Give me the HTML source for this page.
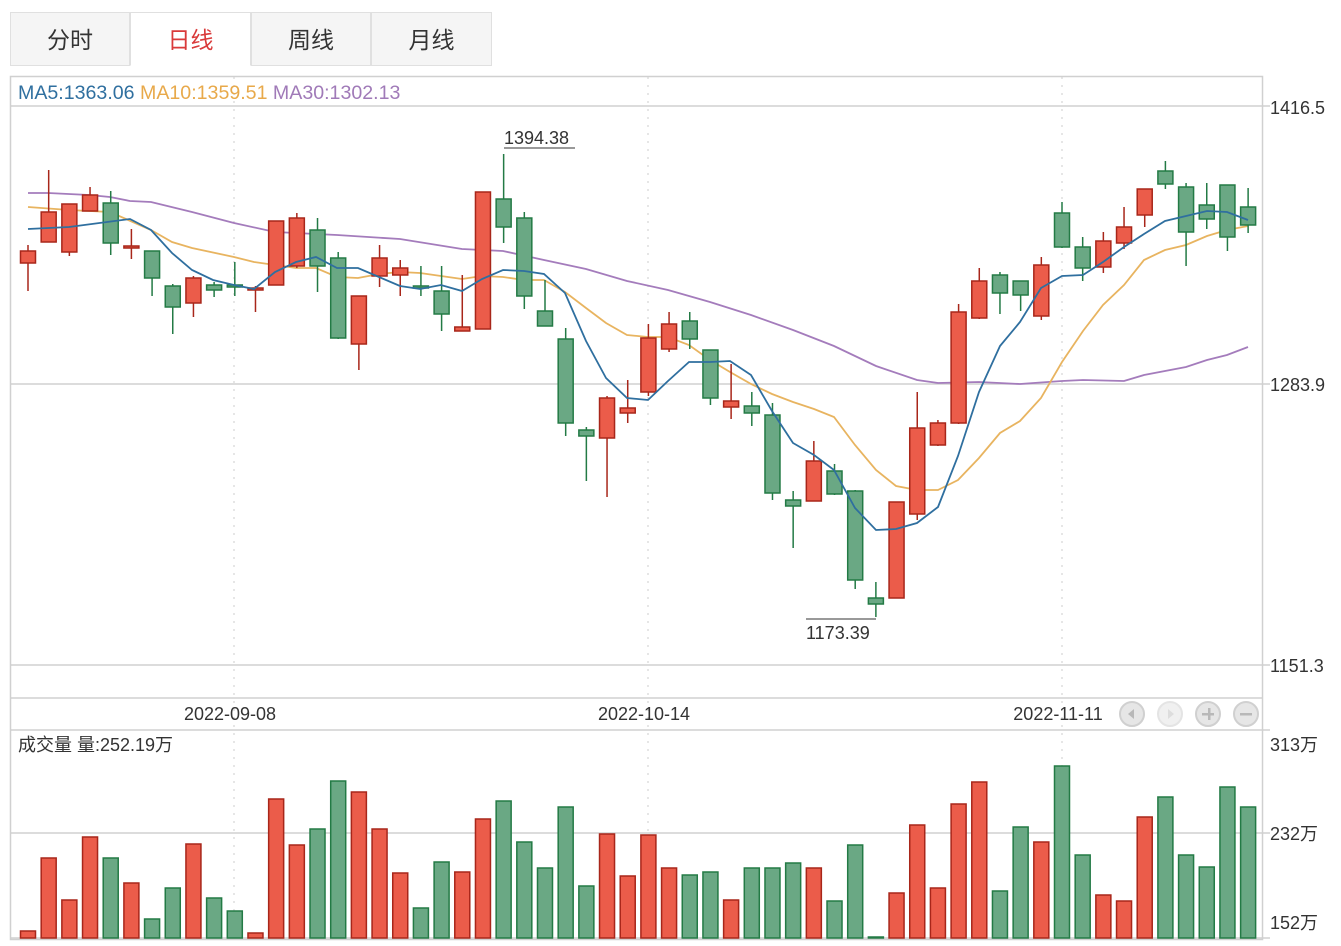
<!DOCTYPE html>
<html><head><meta charset="utf-8"><style>
body{margin:0;background:#fff;width:1341px;height:946px;overflow:hidden;font-family:"Liberation Sans","Noto Sans CJK SC",sans-serif}
.tab{position:absolute;top:12px;height:54px;width:120px;background:#f5f5f5;border:1px solid #e0e0e0;box-sizing:border-box;text-align:center;line-height:54px;font-size:23px;color:#333}
</style></head><body>
<div class="tab" style="left:10px">分时</div>
<div class="tab" style="left:130px;width:121px;background:#fff;color:#d93a3a;border-bottom-color:#fff">日线</div>
<div class="tab" style="left:251px">周线</div>
<div class="tab" style="left:371px;width:121px">月线</div>
<svg width="1341" height="946" style="position:absolute;left:0;top:0" xmlns="http://www.w3.org/2000/svg" font-family="Liberation Sans, Noto Sans CJK SC, sans-serif">
<g stroke="#d0d0d0" stroke-width="1.5" fill="none">
<rect x="10.5" y="76.5" width="1252" height="863"/>
<line x1="10" y1="106" x2="1270" y2="106"/>
<line x1="10" y1="384" x2="1270" y2="384"/>
<line x1="10" y1="665" x2="1270" y2="665"/>
<line x1="10" y1="698" x2="1263" y2="698"/>
<line x1="10" y1="730" x2="1270" y2="730"/>
<line x1="10" y1="833" x2="1270" y2="833"/>
<line x1="10" y1="938" x2="1270" y2="938"/>
</g>
<g stroke="#ccc" stroke-width="1" stroke-dasharray="2,6">
<line x1="234" y1="77" x2="234" y2="940"/><line x1="648" y1="77" x2="648" y2="940"/><line x1="1062" y1="77" x2="1062" y2="940"/>
</g>
<g font-size="18" fill="#333">
<text x="1270" y="114">1416.5</text><text x="1270" y="391">1283.9</text><text x="1270" y="672">1151.3</text>
<text x="230" y="720" text-anchor="middle">2022-09-08</text><text x="644" y="720" text-anchor="middle">2022-10-14</text><text x="1058" y="720" text-anchor="middle">2022-11-11</text>
<text x="1270" y="751">313万</text><text x="1270" y="840">232万</text><text x="1270" y="929">152万</text>
<text x="18" y="751">成交量 量:252.19万</text>
<text x="504" y="144">1394.38</text><text x="806" y="639">1173.39</text>
</g>
<line x1="504" y1="148" x2="575" y2="148" stroke="#333"/>
<line x1="806" y1="619" x2="876" y2="619" stroke="#333"/>
<text x="18" y="99" font-size="19.6"><tspan fill="#2f6f9f">MA5:1363.06 </tspan><tspan fill="#e8a94a">MA10:1359.51 </tspan><tspan fill="#a07ab8">MA30:1302.13</tspan></text>
<g fill="#e6e6e6" stroke="#d0d0d0" stroke-width="2">
<circle cx="1132" cy="714" r="12"/><circle cx="1170" cy="714" r="12" fill="#f0f0f0" stroke="#e4e4e4"/><circle cx="1208" cy="714" r="12"/><circle cx="1246" cy="714" r="12"/>
</g>
<g fill="#b8b8b8"><path d="M1128 714l6-5v10z"/><path d="M1174 714l-6-5v10z" fill="#ddd"/><rect x="1202" y="713" width="12" height="2.5"/><rect x="1208" y="708" width="2.5" height="12"/><rect x="1240" y="713" width="12" height="2.5"/></g>
<polyline fill="none" stroke="#a47cbc" stroke-width="1.8" points="28,193 48,193 89,195 110,197 130,201 151,202 192,212 234,223 275,232 296,233 316,234 337,235 400,239 462,249 503,251 544,260 586,269 627,281 668,290 710,302 751,315 793,330 834,346 876,366 917,380 938,383 979,382 1020,384 1062,381 1083,380 1124,381 1144,375 1186,367 1207,360 1227,355 1248,347"/>
<polyline fill="none" stroke="#e8b460" stroke-width="1.8" points="28,207 69,210 110,212 151,230 172,242 192,248 234,257 254,262 275,265 296,268 316,268 337,277 358,278 379,274 400,272 420,273 441,276 462,279 482,276 503,277 524,280 544,280 565,292 586,308 606,323 627,335 648,337 668,337 689,345 710,360 730,372 751,384 772,394 793,402 814,409 834,417 855,445 876,470 896,486 917,490 938,490 958,480 979,458 1000,433 1020,421 1041,398 1062,362 1083,331 1103,305 1124,285 1144,260 1165,250 1186,245 1207,236 1227,230 1248,226"/>
<g id="c"></g>
<polyline fill="none" stroke="#2f6f9f" stroke-width="1.8" points="28,229 69,227 130,219 151,230 172,253 192,270 213,280 234,285 254,289 275,272 296,262 316,257 337,268 358,268 379,277 400,286 420,289 441,285 462,291 482,279 503,270 524,271 544,274 565,293 586,341 606,378 627,398 648,400 668,381 689,362 710,362 730,361 751,375 772,411 793,443 814,455 834,470 855,508 876,530 896,529 917,523 938,507 958,456 979,392 1000,346 1020,322 1041,288 1062,276 1083,275 1103,262 1124,247 1144,234 1165,221 1186,216 1207,211 1227,212 1248,220"/>
</svg>
<script>
var C=[[251,263,245,291,1],[212,242,170,242,1],[204,252,204,256,1],[195,211,187,211,1],[203,243,191,255,0],[246,248,229,259,1],[251,278,251,296,0],[286,307,284,334,0],[278,303,276,317,1],[285,290,282,297,0],[285,286,262,296,0],[288,290,286,312,1],[221,285,221,285,1],[218,266,213,268,1],[230,266,218,292,0],[258,338,252,339,0],[296,344,296,370,1],[258,276,245,287,1],[268,275,260,296,1],[286,288,266,296,0],[291,314,266,331,0],[327,331,275,331,1],[192,329,192,329,1],[199,227,154,243,0],[218,296,212,309,0],[311,326,280,326,0],[339,423,328,436,0],[430,436,427,481,0],[398,438,396,497,1],[408,413,380,423,1],[338,392,324,396,1],[324,349,312,352,1],[321,339,312,349,0],[350,398,350,405,0],[401,407,364,419,1],[406,413,392,426,0],[415,493,403,500,0],[500,506,491,548,0],[461,501,441,501,1],[471,494,464,495,0],[491,580,490,589,0],[598,604,582,617,0],[502,598,502,598,1],[428,514,392,520,1],[423,445,420,446,1],[312,423,304,424,1],[281,318,268,319,1],[275,293,272,314,0],[281,295,281,311,0],[265,316,257,320,1],[213,247,202,248,0],[247,268,237,281,0],[241,267,232,273,1],[227,243,207,249,1],[189,215,189,227,1],[171,184,161,189,0],[187,232,183,266,0],[205,219,183,229,0],[185,237,185,251,0],[207,225,188,233,0]];
var V=[931,858,900,837,858,883,919,888,844,898,911,933,799,845,829,781,792,829,873,908,862,872,819,801,842,868,807,886,834,876,835,868,875,872,900,868,868,863,868,901,845,937,893,825,888,804,782,891,827,842,766,855,895,901,817,797,855,867,787,807];
var s='';
for(var i=0;i<60;i++){var x=28+i*20.68,d=C[i],f=d[4]?'#eb5c4a':'#6aa884',k=d[4]?'#a8261a':'#237a45';
var h=Math.max(2,d[1]-d[0]);
s+='<line x1="'+x+'" y1="'+d[2]+'" x2="'+x+'" y2="'+d[3]+'" stroke="'+k+'" stroke-width="1.5"/>';
s+='<rect x="'+(x-7.5)+'" y="'+d[0]+'" width="15" height="'+h+'" fill="'+f+'" stroke="'+k+'" stroke-width="1.5"/>';
var vc=V[i];
s+='<rect x="'+(x-7.5)+'" y="'+vc+'" width="15" height="'+Math.max(1,938-vc)+'" fill="'+f+'" stroke="'+k+'" stroke-width="1.5"/>';}
document.getElementById('c').innerHTML=s;
</script>
</body></html>
